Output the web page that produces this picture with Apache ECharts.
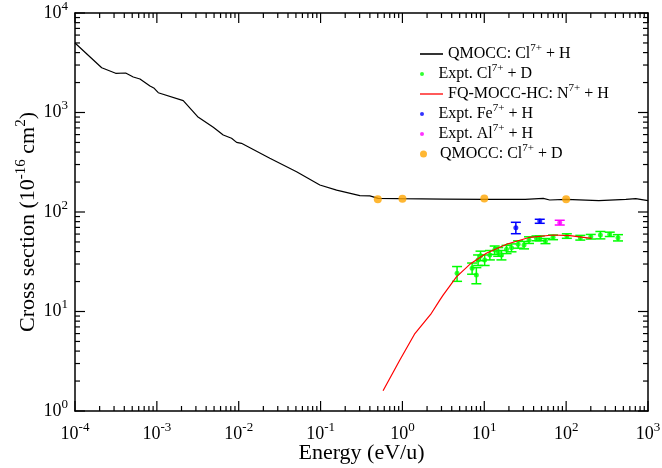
<!DOCTYPE html>
<html><head><meta charset="utf-8">
<script src="https://cdn.jsdelivr.net/npm/echarts@6/dist/echarts.min.js"></script>
<style>html,body{margin:0;padding:0;background:#fff}#c{width:662px;height:468px}</style>
</head><body><div id="c"></div>
<script>
// ---------- data ----------
const qmoccHX = [1e-4, 2.12e-4, 3.14e-4, 4.16e-4, 5.15e-4, 6.22e-4, 8.24e-4, 9.29e-4, 1.04e-3, 2.1e-3, 3.15e-3, 4.89e-3, 6.47e-3, 8.18e-3, 9.42e-3, 1.08e-2, 2.4e-2, 5.09e-2, 9.8e-2, 0.157, 0.302, 0.4, 0.505, 0.93, 3.16, 10, 31.6, 52.5, 63, 100, 251, 537, 708, 1000];
const qmoccHY = [5000, 2820, 2477, 2495, 2275, 2173, 1845, 1750, 1581, 1315, 908, 710, 594, 551, 501, 490, 347, 254, 187, 166, 146, 145, 137, 136, 135, 134, 134, 137, 132, 134, 130, 134, 136, 130];

const fqX = [0.58, 0.93, 1.42, 2.26, 2.86, 3.14, 4.57, 6.65, 10.6, 18.7, 36, 69.2, 111, 204];
const fqY = [1.6, 3.26, 6.0, 9.6, 13, 14.6, 22.3, 29.8, 38.5, 47.4, 55.7, 58.7, 57.8, 54.4];

const clDX = [4.65, 7.1, 8.0, 8.4, 9.0, 10.1, 11.7, 13.4, 14.8, 16.2, 18.7, 21.5, 25.9, 30.6, 35.2, 43.4, 47.6, 55.9, 69.2, 102, 149, 200, 262, 341, 430];
const clDY = [24.2, 27.2, 23.3, 33, 36.4, 33, 37, 41.5, 39.9, 37, 42.2, 43.8, 47.3, 46.6, 52.3, 54.4, 54.4, 51.1, 55.7, 57.4, 55.2, 56.5, 58.7, 59.7, 55.2];
const clDErr = [4.1, 3.5, 4.3, 4, 4, 4, 4, 4, 4, 4, 4, 4, 4, 4, 4, 3, 3, 3, 3, 3, 3, 3, 5, 3, 4];

const feX = [24.3, 47.6];
const feY = [69.5, 81.2];
const feLo = [60.5, 77];
const feHi = [78.8, 84.5];

const alX = [83.5];
const alY = [78];
const alLo = [74];
const alHi = [82.6];

const qmoccDX = [0.5, 1, 10, 100];
const qmoccDY = [134, 136, 137, 134];

// axis tick values (decades; minor ticks are generated in between)
const xMajor = [1e-4, 1e-3, 1e-2, 1e-1, 1, 10, 100, 1000];
const yMajor = [1, 10, 100, 1000, 10000];

const X_MIN = 1e-4, X_MAX = 1e3, Y_MIN = 1, Y_MAX = 1e4;

// legend labels: [main, superscript, tail]
const names = ['QMOCC: Cl7+ + H', 'Expt. Cl7+ + D', 'FQ-MOCC-HC: N7+ + H', 'Expt. Fe7+ + H', 'Expt. Al7+ + H', 'QMOCC: Cl7+ + D'];
const nameParts = [['QMOCC: Cl', '7+', ' + H'], ['Expt. Cl', '7+', ' + D'], ['FQ-MOCC-HC: N', '7+', ' + H'], ['Expt. Fe', '7+', ' + H'], ['Expt. Al', '7+', ' + H'], ['QMOCC: Cl', '7+', ' + D']];

// ---------- helpers ----------
const FONT = 'Liberation Serif';
const zip = (a, b) => a.map((v, i) => [v, b[i]]);
const xMinor = [], yMinor = [];
for (let k = -4; k < 3; k++) for (let m = 2; m < 10; m++) xMinor.push(m * Math.pow(10, k));
for (let k = 0; k < 4; k++) for (let m = 2; m < 10; m++) yMinor.push(m * Math.pow(10, k));

function expLabel(v) {
  const e = Math.round(Math.log10(v));
  return '{b|10}{e|' + e + '}';
}
const tickRich = {
  b: { fontFamily: FONT, fontSize: 18, color: '#000', lineHeight: 26, verticalAlign: 'middle' },
  e: { fontFamily: FONT, fontSize: 13, color: '#000', lineHeight: 12, verticalAlign: 'top' }
};

function errRender(color) {
  return function (params, api) {
    const x = api.value(0), lo = api.value(2), hi = api.value(3);
    const p1 = api.coord([x, lo]), p2 = api.coord([x, hi]);
    const w = 5;
    const st = { stroke: color, lineWidth: 1.5 };
    return { type: 'group', children: [
      { type: 'line', shape: { x1: p1[0], y1: p1[1], x2: p2[0], y2: p2[1] }, style: st },
      { type: 'line', shape: { x1: p1[0] - w, y1: p1[1], x2: p1[0] + w, y2: p1[1] }, style: st },
      { type: 'line', shape: { x1: p2[0] - w, y1: p2[1], x2: p2[0] + w, y2: p2[1] }, style: st }
    ]};
  };
}

// frame tick marks drawn as thin rectangular symbols anchored on the frame, pointing inward
const EPS = 1.0001;
const TW = 1.2;
function tickItems(values, side, len) {
  return values.map(v => {
    if (side === 'bottom') return { value: [v, Y_MIN * EPS], symbolSize: [TW, len], symbolOffset: [0, -len / 2] };
    if (side === 'top') return { value: [v, Y_MAX / EPS], symbolSize: [TW, len], symbolOffset: [0, len / 2] };
    if (side === 'left') return { value: [X_MIN * EPS, v], symbolSize: [len, TW], symbolOffset: [len / 2, 0] };
    return { value: [X_MAX / EPS, v], symbolSize: [len, TW], symbolOffset: [-len / 2, 0] };
  });
}
const tickData = [].concat(
  tickItems(xMajor, 'bottom', 10), tickItems(xMinor, 'bottom', 5),
  tickItems(xMajor, 'top', 10), tickItems(xMinor, 'top', 5),
  tickItems(yMajor, 'left', 10), tickItems(yMinor, 'left', 5),
  tickItems(yMajor, 'right', 10), tickItems(yMinor, 'right', 5));

const legendRich = {
  a: { fontFamily: FONT, fontSize: 16, color: '#000', lineHeight: 22, verticalAlign: 'middle' },
  s: { fontFamily: FONT, fontSize: 11, color: '#000', lineHeight: 11, verticalAlign: 'top' }
};
const iconH = [1.6, 4, 1.3, 4, 4, 7];
const isLine = [true, false, true, false, false, false];
const legends = names.map((n, i) => ({
  data: [isLine[i] ? { name: n, icon: 'rect' } : { name: n, icon: 'circle' }],
  left: 415,
  top: 38 + i * 20,
  itemWidth: 23,
  itemHeight: iconH[i],
  selectedMode: false,
  formatter: function (name) {
    const p = nameParts[names.indexOf(name)];
    return '{a|' + p[0] + '}{s|' + p[1] + '}{a|' + p[2] + '}';
  },
  textStyle: { rich: legendRich }
}));

const axisLine = { show: true, lineStyle: { color: '#000', width: 1.5 } };

const option = {
  animation: false,
  backgroundColor: '#fff',
  grid: { left: 75, right: 14, top: 13, bottom: 57, containLabel: false, outerBoundsMode: 'none' },
  legend: legends,
  xAxis: [
    { type: 'log', logBase: 10, min: X_MIN, max: X_MAX, interval: 1, position: 'bottom',
      axisLine: axisLine, axisTick: { show: false }, splitLine: { show: false },
      axisLabel: { formatter: expLabel, rich: tickRich, margin: 10 },
      name: 'Energy (eV/u)', nameLocation: 'middle', nameGap: 31, nameMoveOverlap: false,
      nameTextStyle: { fontFamily: FONT, fontSize: 22, color: '#000' } },
    { type: 'log', logBase: 10, min: X_MIN, max: X_MAX, interval: 1, position: 'top',
      axisLine: axisLine, axisTick: { show: false }, splitLine: { show: false }, axisLabel: { show: false } }
  ],
  yAxis: [
    { type: 'log', logBase: 10, min: Y_MIN, max: Y_MAX, interval: 1, position: 'left',
      axisLine: axisLine, axisTick: { show: false }, splitLine: { show: false },
      axisLabel: { formatter: expLabel, rich: tickRich, margin: 7 },
      name: '{t|Cross section (10}{s|-16}{t| cm}{s|2}{t|)}', nameLocation: 'middle', nameGap: 33, nameRotate: 90, nameMoveOverlap: false,
      nameTextStyle: { padding: [0, 20, 0, 0], rich: {
        t: { fontFamily: FONT, fontSize: 22, color: '#000', lineHeight: 28, verticalAlign: 'middle' },
        s: { fontFamily: FONT, fontSize: 15, color: '#000', lineHeight: 13, verticalAlign: 'top' } } } },
    { type: 'log', logBase: 10, min: Y_MIN, max: Y_MAX, interval: 1, position: 'right',
      axisLine: axisLine, axisTick: { show: false }, splitLine: { show: false }, axisLabel: { show: false } }
  ],
  series: [
    { type: 'scatter', name: 'frameTicks', data: tickData, symbol: 'rect', itemStyle: { color: '#000', opacity: 1 },
      silent: true, clip: false, z: 10, emphasis: { disabled: true } },
    { type: 'line', name: names[0], data: zip(qmoccHX, qmoccHY), symbol: 'none', lineStyle: { color: '#000', width: 1.2 }, itemStyle: { color: '#000' }, z: 2 },
    { type: 'custom', name: 'clErr', renderItem: errRender('#00ff00'), encode: { x: 0, y: [1, 2, 3] },
      data: clDX.map((x, i) => [x, clDY[i], clDY[i] - clDErr[i], clDY[i] + clDErr[i]]), z: 3 },
    { type: 'scatter', name: names[1], data: zip(clDX, clDY), symbol: 'circle', symbolSize: 5, itemStyle: { color: '#00ff00' }, z: 4 },
    { type: 'line', name: names[2], data: zip(fqX, fqY), symbol: 'none', smooth: false, lineStyle: { color: '#ff0000', width: 1.2 }, itemStyle: { color: '#ff0000' }, z: 5 },
    { type: 'custom', name: 'feErr', renderItem: errRender('#0000ff'), encode: { x: 0, y: [1, 2, 3] },
      data: feX.map((x, i) => [x, feY[i], feLo[i], feHi[i]]), z: 3 },
    { type: 'scatter', name: names[3], data: zip(feX, feY), symbol: 'circle', symbolSize: 5, itemStyle: { color: '#0000ff' }, z: 4 },
    { type: 'custom', name: 'alErr', renderItem: errRender('#ff00ff'), encode: { x: 0, y: [1, 2, 3] },
      data: alX.map((x, i) => [x, alY[i], alLo[i], alHi[i]]), z: 3 },
    { type: 'scatter', name: names[4], data: zip(alX, alY), symbol: 'circle', symbolSize: 5, itemStyle: { color: '#ff00ff' }, z: 4 },
    { type: 'scatter', name: names[5], data: zip(qmoccDX, qmoccDY), symbol: 'circle', symbolSize: 8, itemStyle: { color: '#ffa500' }, z: 6 }
  ]
};
const chart = echarts.init(document.getElementById('c'), null, { renderer: 'canvas' });
chart.setOption(option);
</script>
</body></html>
